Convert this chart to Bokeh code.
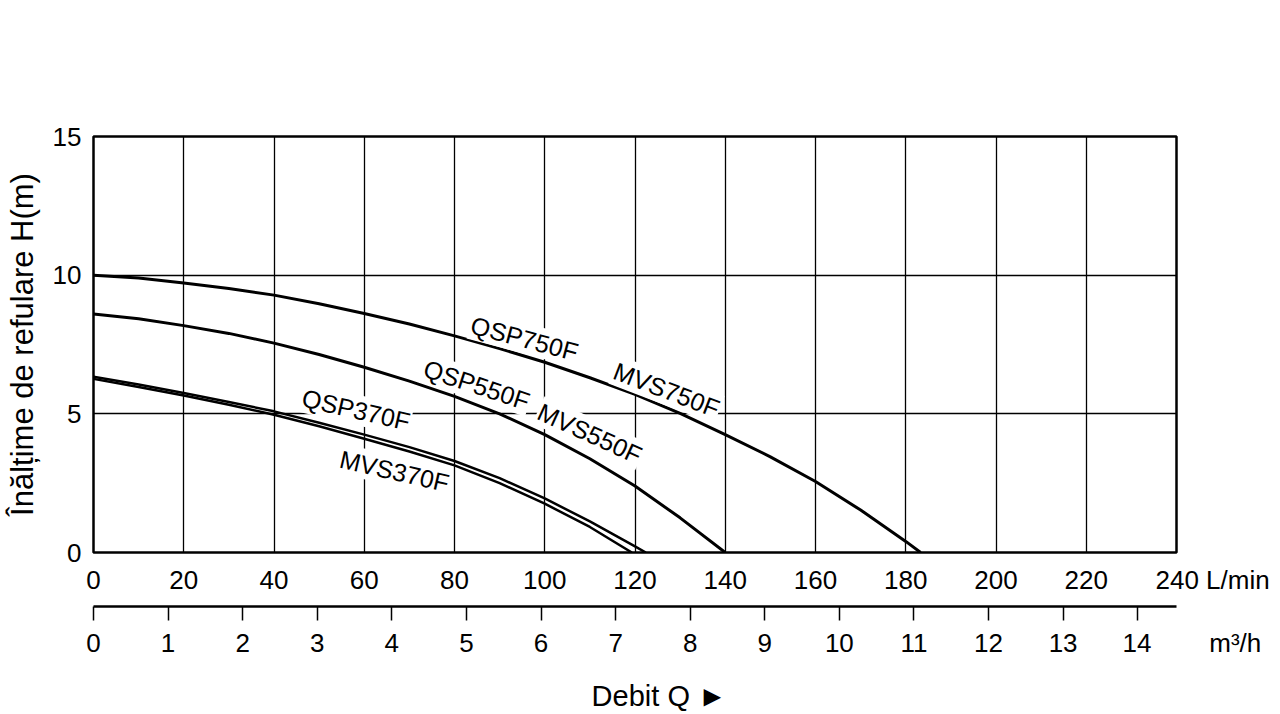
from bokeh.plotting import figure
from bokeh.models import Range1d, FixedTicker, ColumnDataSource
from bokeh.layouts import column
from bokeh.core.properties import value
from bokeh.embed import file_html
from bokeh.resources import INLINE

FONT = "Liberation Sans"
NB = "\u00a0"

# ---- data (flow in L/min, head in m) ----
q_750 = [0, 10, 20, 30, 40, 50, 60, 70, 80, 90, 100, 110, 120, 130, 140, 150, 160, 170, 180, 183.3]
h_750 = [10.0, 9.9, 9.72, 9.52, 9.28, 8.97, 8.62, 8.24, 7.81, 7.35, 6.86, 6.3, 5.7, 5.02, 4.25, 3.45, 2.56, 1.53, 0.4, 0.0]

q_550 = [0, 10, 20, 30, 40, 50, 60, 70, 80, 90, 100, 110, 120, 130, 140]
h_550 = [8.6, 8.43, 8.18, 7.9, 7.55, 7.14, 6.68, 6.18, 5.63, 5.0, 4.25, 3.38, 2.4, 1.25, 0.0]

q_qsp370 = [0, 10, 20, 30, 40, 50, 60, 70, 80, 90, 100, 110, 120, 122.4]
h_qsp370 = [6.34, 6.06, 5.75, 5.43, 5.09, 4.68, 4.25, 3.8, 3.3, 2.68, 1.95, 1.12, 0.22, 0.0]

q_mvs370 = [0, 10, 20, 30, 40, 50, 60, 70, 80, 90, 100, 110, 119.3]
h_mvs370 = [6.26, 5.97, 5.66, 5.33, 4.97, 4.55, 4.1, 3.64, 3.14, 2.5, 1.76, 0.92, 0.0]

curve_names = ["QSP750F", "MVS750F", "QSP550F", "MVS550F", "QSP370F", "MVS370F"]

lmin_ticks = [0, 20, 40, 60, 80, 100, 120, 140, 160, 180, 200, 220, 240]
m3h_ticks = [0, 1, 2, 3, 4, 5, 6, 7, 8, 9, 10, 11, 12, 13, 14]
h_ticks = [0, 5, 10, 15]

y_title = "Înălțime de refulare H(m)"
x_title = "Debit Q ►"
unit_lmin = "L/min"
unit_m3h = "m³/h"

# label anchors (layout) for the curve names
label_x = [95.5, 127.0, 84.9, 110.0, 58.2, 66.7]
label_y = [7.72, 5.87, 6.05, 4.30, 5.15, 2.94]
label_angle = [-15, -21, -18.3, -24.5, -13, -13]

# ---- main chart ----
p = figure(width=1280, height=597, x_range=Range1d(0, 240), y_range=Range1d(0, 15),
           output_backend="svg", toolbar_location=None, title=None,
           min_border_left=93, min_border_right=104, min_border_top=136, min_border_bottom=44)
p.background_fill_color = "white"
p.border_fill_color = "white"
p.outline_line_color = "black"
p.outline_line_width = 2.5

p.xaxis.ticker = FixedTicker(ticks=lmin_ticks)
p.yaxis.ticker = FixedTicker(ticks=h_ticks)
for ax in (p.xaxis, p.yaxis):
    ax.axis_line_color = None
    ax.major_tick_out = 0
    ax.major_tick_in = 0
    ax.minor_tick_out = 0
    ax.minor_tick_in = 0
    ax.major_label_text_font = FONT
    ax.major_label_text_font_size = "26px"
    ax.major_label_text_color = "black"
# unit written after the last tick value; padding keeps "240" centred on its tick
p.xaxis.major_label_overrides = {lmin_ticks[-1]: NB * 10 + str(lmin_ticks[-1]) + NB + unit_lmin}
p.xaxis.major_label_standoff = 12
p.yaxis.major_label_standoff = 12
p.yaxis.axis_label = y_title
p.yaxis.axis_label_text_font = FONT
p.yaxis.axis_label_text_font_size = "31px"
p.yaxis.axis_label_text_font_style = "normal"
p.yaxis.axis_label_text_color = "black"
p.yaxis.axis_label_standoff = 10

p.xgrid.grid_line_color = "black"
p.xgrid.grid_line_width = 1.3
p.ygrid.grid_line_color = "black"
p.ygrid.grid_line_width = 1.3

p.line(q_750, h_750, line_color="black", line_width=3, line_join="round")
p.line(q_550, h_550, line_color="black", line_width=3, line_join="round")
p.line(q_qsp370, h_qsp370, line_color="black", line_width=2.5, line_join="round")
p.line(q_mvs370, h_mvs370, line_color="black", line_width=2.5, line_join="round")

lab_src = ColumnDataSource(dict(x=label_x, y=label_y, text=curve_names, angle=label_angle))
p.text(x="x", y="y", text="text", angle="angle", angle_units="deg", source=lab_src,
       text_font=value(FONT), text_font_size=value("25px"), text_color="black",
       text_align="center", text_baseline="middle",
       background_fill_color="white", padding=1)

# ---- second flow scale (m3/h) ----
p2 = figure(width=1280, height=117, x_range=Range1d(0, 14.52), y_range=Range1d(0, 1),
            output_backend="svg", toolbar_location=None, title=None,
            min_border_left=93, min_border_right=104, min_border_top=0, min_border_bottom=107)
p2.outline_line_color = None
p2.background_fill_color = "white"
p2.border_fill_color = "white"
p2.grid.visible = False
p2.yaxis.visible = False
p2.xaxis.ticker = FixedTicker(ticks=m3h_ticks)
p2.xaxis.axis_line_color = "black"
p2.xaxis.axis_line_width = 2.3
p2.xaxis.major_tick_line_color = "black"
p2.xaxis.major_tick_line_width = 1.5
p2.xaxis.major_tick_out = 14
p2.xaxis.major_tick_in = 0
p2.xaxis.minor_tick_out = 0
p2.xaxis.minor_tick_in = 0
p2.xaxis.major_label_standoff = 7
p2.xaxis.major_label_text_font = FONT
p2.xaxis.major_label_text_font_size = "26px"
p2.xaxis.major_label_text_color = "black"
p2.xaxis.major_label_overrides = {m3h_ticks[-1]: NB * 15 + str(m3h_ticks[-1]) + NB * 8 + unit_m3h}
# axis title, shifted right of the frame centre as in the reference
p2.xaxis.axis_label = NB * 6 + x_title
p2.xaxis.axis_label_text_font = FONT
p2.xaxis.axis_label_text_font_size = "29px"
p2.xaxis.axis_label_text_font_style = "normal"
p2.xaxis.axis_label_text_color = "black"
p2.xaxis.axis_label_standoff = 19

layout = column(p, p2, spacing=0)
open("out.html", "w").write(file_html(layout, INLINE))
